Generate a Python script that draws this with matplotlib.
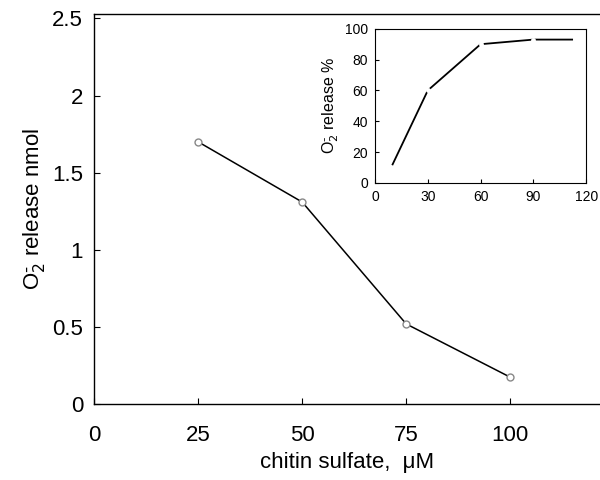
import matplotlib
matplotlib.use("Agg")
import matplotlib.pyplot as plt

plt.rcParams['font.family'] = ['Liberation Sans Narrow', 'Liberation Sans', 'DejaVu Sans']

# main data
conc = [25, 50, 75, 100]
release_nmol = [1.70, 1.31, 0.52, 0.175]
main_xticks = [0, 25, 50, 75, 100]
main_yticks = [0, 0.5, 1, 1.5, 2, 2.5]
main_yticklabels = ['0', '0.5', '1', '1.5', '2', '2.5']

# inset data
inset_x = [10, 30, 60, 90, 112]
inset_y = [12, 60, 90, 93, 93]
inset_xticks = [0, 30, 60, 90, 120]
inset_yticks = [0, 20, 40, 60, 80, 100]

fig = plt.figure(figsize=(6, 4.8), dpi=100)
ax = fig.add_axes([0.157, 0.158, 0.843, 0.812])
ax.plot(conc, release_nmol, color='black', lw=1.1, marker='o', ms=5,
        mfc='white', mec='#888888', mew=1.0)
ax.set_xlim(0, 121.6)
ax.set_ylim(0, 2.526)
ax.set_xticks(main_xticks)
ax.set_yticks(main_yticks)
ax.set_yticklabels(main_yticklabels)
ax.tick_params(direction='in', length=4, labelsize=16, pad=8)
ax.tick_params(axis='x', pad=15)
ax.spines['right'].set_visible(False)
for s in ['left', 'bottom', 'top']:
    ax.spines[s].set_linewidth(1.0)
ax.set_xlabel('chitin sulfate,  \u03bcM', fontsize=16, labelpad=4)
ax.set_ylabel(r'O$_2^{\bar{\ }}$ release nmol', fontsize=16, labelpad=4)

# inset
ins = fig.add_axes([0.625, 0.619, 0.352, 0.321])
ins.plot(inset_x, inset_y, color='black', lw=1.3)
ins.plot(inset_x[1:-1], inset_y[1:-1], ls='none', marker='o', ms=3.5,
         mfc='white', mec='none')
ins.set_xlim(0, 120)
ins.set_ylim(0, 100)
ins.set_xticks(inset_xticks)
ins.set_yticks(inset_yticks)
ins.tick_params(direction='in', length=3, labelsize=10, pad=5)
ins.set_ylabel(r'O$_2^{\bar{\ }}$ release %', fontsize=11.5, labelpad=3)

fig.savefig('out.png', dpi=100)
